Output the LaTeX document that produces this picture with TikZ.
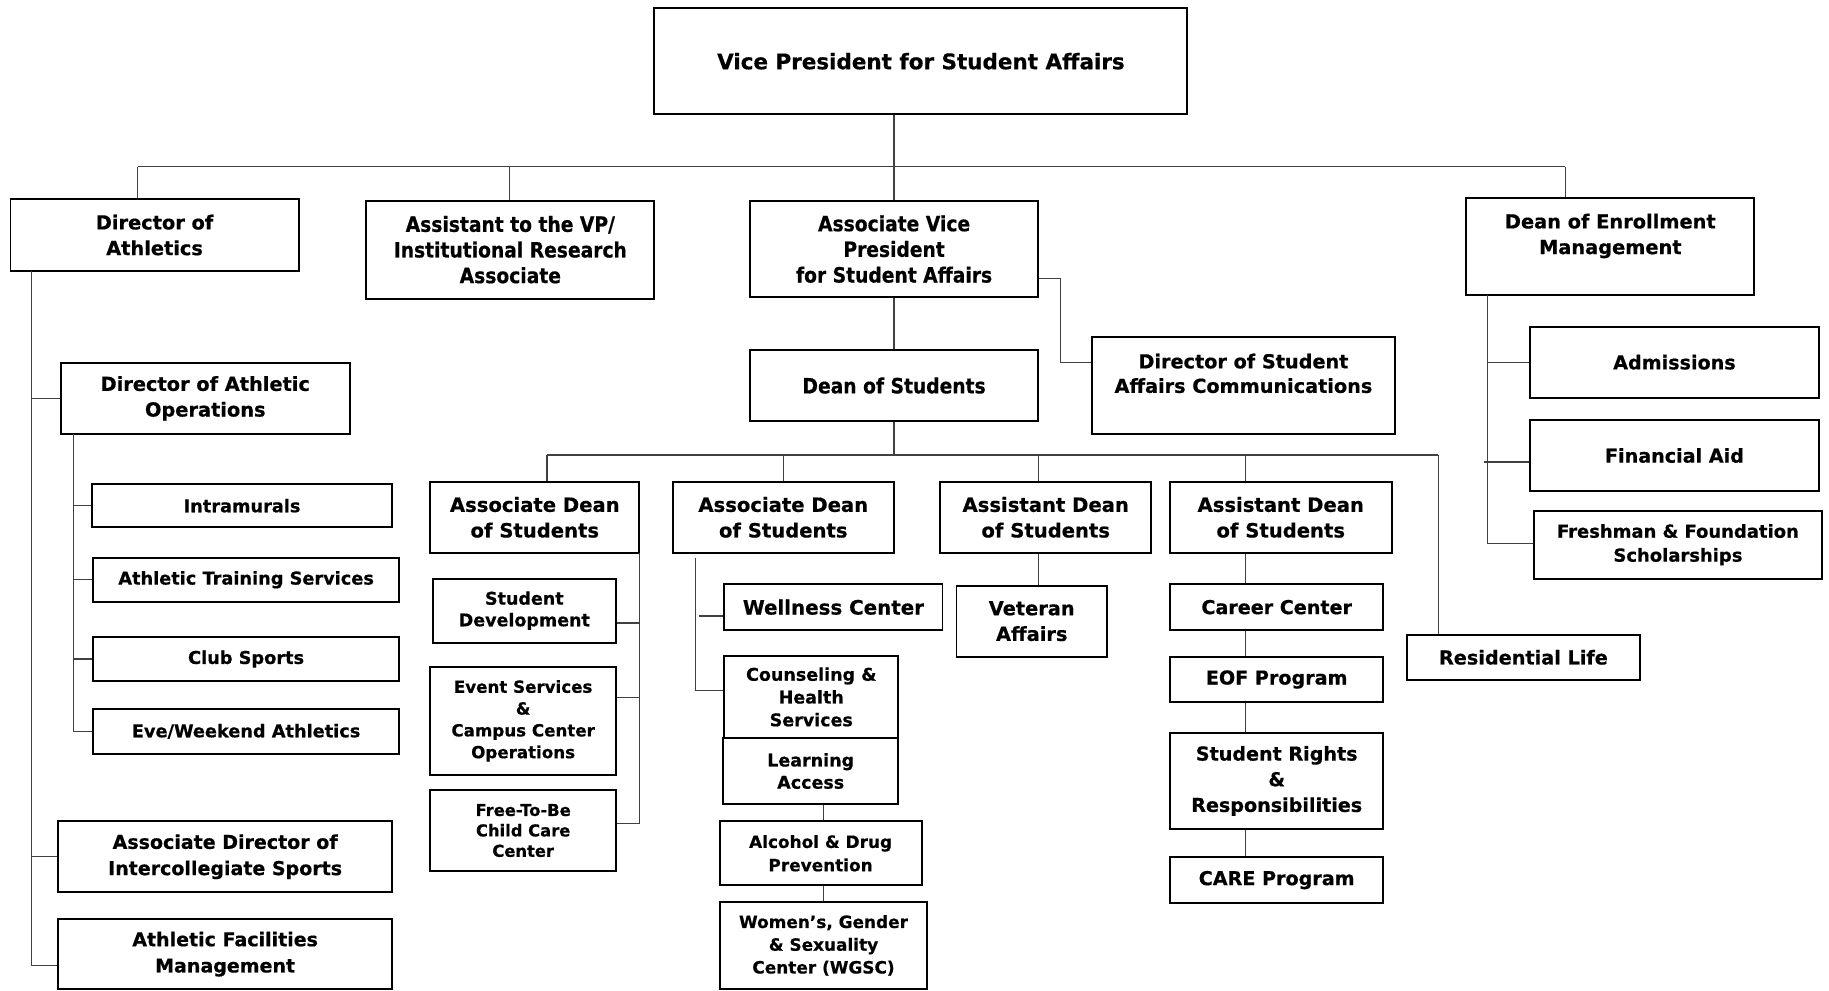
\documentclass[tikz,border=0pt]{standalone}
\usepackage{fontspec}
\setmainfont{DejaVu Sans}[BoldFeatures={FakeBold=0.6}]
\newfontfamily\condf{DejaVu Sans}[FakeStretch=0.89, BoldFeatures={FakeBold=0.6}]
\newcommand{\fs}[2]{\fontsize{#1}{#2}\selectfont}
\begin{document}
\begin{tikzpicture}[x=1pt,y=-1pt,
  box/.style={draw=black, line width=1.7pt, align=center, inner sep=0pt},
  f/.style 2 args={font=\bfseries\fs{#1}{#2}},
  cf/.style 2 args={font=\condf\bfseries\fs{#1}{#2}},
  wh/.style 2 args={minimum width=#1pt, minimum height=#2pt},
  conn/.style={draw=black!75, line width=1.1pt}]
\useasboundingbox (0,0) rectangle (1568,849);
% top level
\node[box, wh={457}{91}, f={18.4}{22}] (vp) at (789.5,52.5) {Vice President for Student Affairs};
\node[box, wh={247}{61}, f={16.6}{22}] (doa) at (132.5,201.5) {Director of\\Athletics};
\node[box, wh={247}{84}, cf={18}{22}] (asst) at (437.5,214) {Assistant to the VP/\\Institutional Research\\Associate};
\node[box, wh={247}{83}, cf={18}{22}] (avp) at (766.5,213.5) {Associate Vice\\President\\for Student Affairs};
\node[box, wh={247}{61}, cf={18}{22}] (dos) at (766.5,330.5) {Dean of Students};
\node[box, wh={260}{83}, f={16.5}{21}] (comm) at (1066,330.5) {Director of Student\\Affairs Communications\\~};
\node[box, wh={247}{83}, f={16.6}{22}] (dem) at (1380.5,211.5) {Dean of Enrollment\\Management\\~};
% enrollment
\node[box, wh={247}{61}, f={16.4}{22}] (adm) at (1435.5,310.5) {Admissions};
\node[box, wh={247}{61}, f={16.4}{22}] (fin) at (1435.5,390.5) {Financial Aid};
\node[box, wh={247}{58}, f={15.4}{20.5}] (fresh) at (1438.5,467) {Freshman \& Foundation\\Scholarships};
% athletics
\node[box, wh={248}{61}, f={16.6}{22}] (dao) at (176,341.5) {Director of Athletic\\Operations};
\node[box, wh={257}{37}, f={15.2}{20}] (intra) at (207.5,433.5) {Intramurals};
\node[box, wh={262}{38}, f={15.2}{20}] (ats) at (211,497) {Athletic Training Services};
\node[box, wh={262}{38}, f={15.2}{20}] (club) at (211,565) {Club Sports};
\node[box, wh={262}{38}, f={15.2}{20}] (eve) at (211,627) {Eve/Weekend Athletics};
\node[box, wh={286}{61}, f={16.3}{22.5}] (adis) at (193,734.5) {Associate Director of\\Intercollegiate Sports};
\node[box, wh={286}{60}, f={16.3}{22.5}] (afm) at (193,818) {Athletic Facilities\\Management};
% deans
\node[box, wh={179}{61}, f={16.8}{22}] (ad1) at (458.5,443.5) {Associate Dean\\of Students};
\node[box, wh={189}{61}, f={16.8}{22}] (ad2) at (671.5,443.5) {Associate Dean\\of Students};
\node[box, wh={181}{61}, f={16.8}{22}] (asd3) at (896.5,443.5) {Assistant Dean\\of Students};
\node[box, wh={190}{61}, f={16.8}{22}] (asd4) at (1098,443.5) {Assistant Dean\\of Students};
% AD1 children
\node[box, wh={157}{55}, f={15}{18.5}] (sdev) at (449.5,523.5) {Student\\Development};
\node[box, wh={159}{92}, f={14.3}{18.7}] (event) at (448.5,618) {Event Services\\\&\\Campus Center\\Operations};
\node[box, wh={159}{70}, f={14}{17.5}] (free) at (448.5,712) {Free-To-Be\\Child Care\\Center};
% AD2 children
\node[box, wh={187}{39}, f={17}{20}] (well) at (714.5,520.5) {Wellness Center};
\node[box, wh={149}{71}, f={15}{19.5}] (couns) at (695.5,597.5) {Counseling \&\\Health\\Services};
\node[box, wh={150}{56}, f={15}{19}] (learn) at (695,661) {Learning\\Access};
\node[box, wh={173}{55}, f={14.5}{20}] (alc) at (703.5,731.5) {Alcohol \& Drug\\Prevention};
\node[box, wh={178}{75}, f={14.5}{19.5}] (wgsc) at (706,810.5) {Women’s, Gender\\\& Sexuality\\Center (WGSC)};
% ASD3 / ASD4 children
\node[box, wh={129}{61}, f={16.6}{22}] (vet) at (884.5,532.5) {Veteran\\Affairs};
\node[box, wh={183}{39}, f={16.4}{22}] (career) at (1094.5,520.5) {Career Center};
\node[box, wh={183}{39}, f={16.4}{22}] (eof) at (1094.5,582.5) {EOF Program};
\node[box, wh={183}{83}, f={16.4}{22}] (srr) at (1094.5,669.5) {Student Rights\\\&\\Responsibilities};
\node[box, wh={183}{39}, f={16.4}{22}] (care) at (1094.5,754.5) {CARE Program};
\node[box, wh={200}{39}, f={16.5}{22}] (res) at (1306,563.5) {Residential Life};
% ---------- connectors ----------
\coordinate (tbL) at (118,143);
\coordinate (tbA) at (437,143);
\coordinate (tbR) at (1342,143);
\draw[conn] (tbL) -- (tbR);
\draw[conn] (tbL) -- (tbL |- doa.north);
\draw[conn] (tbA) -- (tbA |- asst.north);
\draw[conn] (vp.south -| avp.north) -- (avp.north);
\draw[conn] (tbR) -- (tbR |- dem.north);
\draw[conn] (avp.south) -- (dos.north);
\coordinate (cm1) at (909,239);
\coordinate (cm2) at (909,311);
\draw[conn] (cm1 -| avp.east) -- (cm1) -- (cm2) -- (cm2 -| comm.west);
% dean bus
\coordinate (dbL) at (469,390);
\coordinate (dbR) at (1233,390);
\coordinate (db3) at (890,390);
\coordinate (db4) at (1068,390);
\draw[conn] (dos.south) -- (dos.south |- dbL);
\draw[conn] (dbL) -- (dbR);
\draw[conn] (dbL) -- (dbL |- ad1.north);
\draw[conn] (ad2.north |- dbL) -- (ad2.north);
\draw[conn] (db3) -- (db3 |- asd3.north);
\draw[conn] (db4) -- (db4 |- asd4.north);
\draw[conn] (dbR) -- (dbR |- res.north);
\draw[conn] (db3 |- asd3.south) -- (db3 |- vet.north);
\draw[conn] (db4 |- asd4.south) -- (db4 |- career.north);
\draw[conn] (db4 |- career.south) -- (db4 |- eof.north);
\draw[conn] (db4 |- eof.south) -- (db4 |- srr.north);
\draw[conn] (db4 |- srr.south) -- (db4 |- care.north);
% athletics
\coordinate (aT) at (27,232);
\coordinate (aB) at (27,828);
\draw[conn] (aT) -- (aB) -- (aB -| afm.west);
\draw[conn] (aT |- dao.west) -- (dao.west);
\draw[conn] (aT |- adis.west) -- (adis.west);
\coordinate (oT) at (63,372);
\coordinate (oB) at (63,627);
\draw[conn] (oT) -- (oB) -- (oB -| eve.west);
\draw[conn] (oT |- intra.west) -- (intra.west);
\draw[conn] (oT |- ats.west) -- (ats.west);
\draw[conn] (oT |- club.west) -- (club.west);
% AD1 children
\coordinate (r1T) at (548,474);
\coordinate (r1B) at (548,706);
\coordinate (r1a) at (548,534);
\coordinate (r1b) at (548,598);
\draw[conn] (r1T) -- (r1B) -- (r1B -| free.east);
\draw[conn] (r1a) -- (r1a -| sdev.east);
\draw[conn] (r1b) -- (r1b -| event.east);
% AD2 children
\coordinate (l2T) at (596,478);
\coordinate (l2B) at (596,592);
\coordinate (l2a) at (599,528);
\draw[conn] (l2T) -- (l2B) -- (l2B -| couns.west);
\draw[conn] (l2a) -- (l2a -| well.west);
\coordinate (lx) at (706,0);
\draw[conn] (lx |- learn.south) -- (lx |- alc.north);
\draw[conn] (lx |- alc.south) -- (lx |- wgsc.north);
% enrollment
\coordinate (eT) at (1275,253);
\coordinate (eB) at (1275,466);
\coordinate (eF) at (1272,396);
\draw[conn] (eT) -- (eB) -- (eB -| fresh.west);
\draw[conn] (eT |- adm.west) -- (adm.west);
\draw[conn] (eF) -- (eF -| fin.west);
\end{tikzpicture}
\end{document}
